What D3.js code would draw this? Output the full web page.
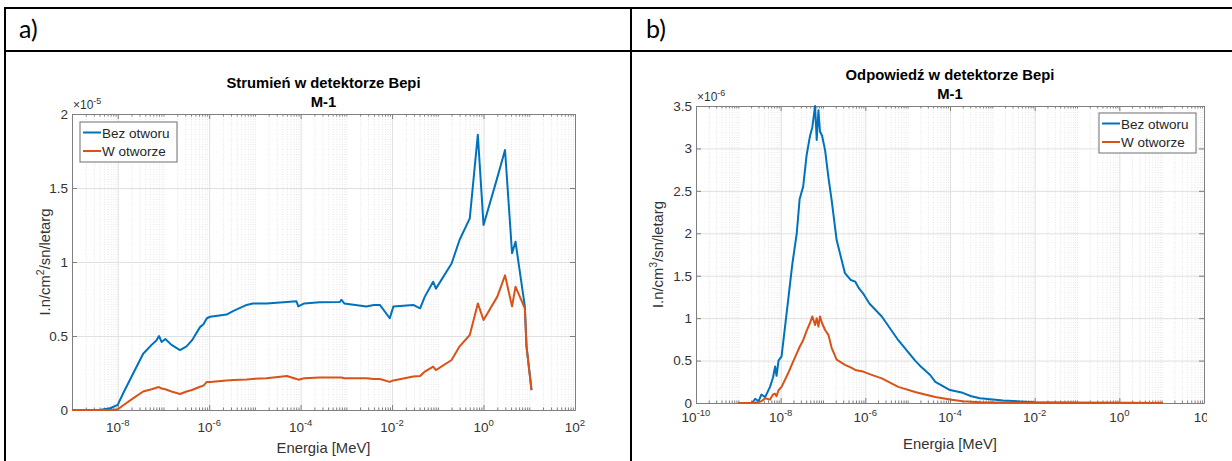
<!DOCTYPE html>
<html lang="pl">
<head>
<meta charset="UTF-8">
<title>Strumień i odpowiedź w detektorze Bepi</title>
<script src="https://d3js.org/d3.v7.min.js"></script>
<style>
  body { margin: 0; background: #fff; }
  svg { display: block; font-family: 'Liberation Sans', Arial, sans-serif; }
  .cell-label { font-family: Lato, 'Open Sans', sans-serif; font-size: 25px; fill: #000; }
  .tick-label { font-size: 13.5px; fill: #333; }
  .axis-label { font-size: 14.8px; fill: #333; }
  .title { font-size: 14.8px; font-weight: bold; fill: #000; }
  .legend-text { font-size: 13.5px; fill: #262626; }
  .axis path, .axis line { stroke: #7f7f7f; stroke-width: 1; fill: none; }
  .grid line { stroke: #e0e0e0; stroke-width: 1; }
  .grid-minor line { stroke: #e6e6e6; stroke-width: 1; stroke-dasharray: 1 1.5; }
</style>
</head>
<body>
<svg id="chart" width="1232" height="461"></svg>
<script>
// ---- data ----
const seriesNames = ["Bez otworu", "W otworze"];
const colors = ["#0072BD", "#D95319"];

// a) Strumień, values in 1e-5
const energyA = [1e-9, 4e-9, 6.8e-9, 1e-8, 1.3e-8, 2.2e-8, 3.6e-8, 5.5e-8, 7e-8, 8e-8, 9.1e-8,
  1.1e-7, 1.5e-7, 2.3e-7, 3.2e-7, 4.2e-7, 6.3e-7, 7.5e-7, 8.9e-7, 1.05e-6, 2.4e-6,
  3.4e-6, 6.6e-6, 9e-6, 1.8e-5, 5e-5, 8.1e-5, 8.9e-5, 1.2e-4, 2.6e-4, 7.2e-4,
  7.8e-4, 9e-4, 2.75e-3, 4e-3, 5.4e-3, 8.9e-3, 1.07e-2, 2.9e-2, 4.1e-2, 5.2e-2,
  7.9e-2, 9.1e-2, 0.2, 0.3, 0.5, 0.75, 1.0, 2.0, 2.95, 4.2,
  5.0, 8.0, 8.7, 11.2];
const bezOtworuA = [0, 0, 0.012, 0.035, 0.11, 0.25, 0.38, 0.44, 0.47, 0.50, 0.46,
  0.48, 0.44, 0.405, 0.43, 0.47, 0.56, 0.58, 0.62, 0.63, 0.645,
  0.67, 0.71, 0.72, 0.72, 0.73, 0.735, 0.70, 0.72, 0.728, 0.73,
  0.745, 0.72, 0.70, 0.71, 0.71, 0.62, 0.70, 0.71, 0.687, 0.766,
  0.867, 0.82, 0.99, 1.15, 1.295, 1.86, 1.25, 1.57, 1.757, 1.06,
  1.137, 0.70, 0.43, 0.135];
const wOtworzeA = [0, 0, 0, 0.004, 0.03, 0.08, 0.125, 0.14, 0.15, 0.155, 0.145,
  0.14, 0.125, 0.108, 0.125, 0.135, 0.157, 0.165, 0.19, 0.19, 0.20,
  0.202, 0.206, 0.21, 0.214, 0.23, 0.21, 0.205, 0.215, 0.22, 0.22,
  0.22, 0.215, 0.214, 0.21, 0.21, 0.19, 0.20, 0.226, 0.23, 0.26,
  0.293, 0.27, 0.338, 0.43, 0.507, 0.72, 0.608, 0.766, 0.91, 0.70,
  0.833, 0.687, 0.43, 0.135];

// b) Odpowiedź, values in 1e-6
const energyB = [1e-9, 2.1e-9, 2.5e-9, 3e-9, 3.5e-9, 4.3e-9, 5.6e-9, 6.6e-9, 7.4e-9, 8e-9,
  8.9e-9, 1.05e-8, 1.5e-8, 1.9e-8, 2.4e-8, 2.8e-8, 3.4e-8, 4.1e-8, 4.9e-8, 5.6e-8,
  6.5e-8, 7.1e-8, 7.8e-8, 8.5e-8, 9.5e-8, 1.12e-7, 1.35e-7, 1.6e-7, 2.1e-7, 3.3e-7,
  4.5e-7, 5.8e-7, 7.1e-7, 8.9e-7, 1.26e-6, 2.45e-6, 6e-6, 1.5e-5, 1.95e-5, 3.4e-5,
  4.5e-5, 1e-4, 2e-4, 3.2e-4, 5.1e-4, 1.8e-3, 1e-2, 0.1, 1, 10.7];
const bezOtworuB = [0, 0, 0.05, 0.02, 0.10, 0.07, 0.19, 0.30, 0.43, 0.32,
  0.50, 0.55, 1.21, 1.65, 2.0, 2.4, 2.55, 2.92, 3.14, 3.25,
  3.5, 3.1, 3.45, 3.2, 3.15, 2.98, 2.65, 2.39, 1.92, 1.53,
  1.45, 1.43, 1.35, 1.29, 1.17, 1.02, 0.74, 0.50, 0.44, 0.33,
  0.25, 0.153, 0.12, 0.08, 0.055, 0.03, 0.008, 0.003, 0.002, 0];
const wOtworzeB = [0, 0, 0.005, 0.01, 0.02, 0.055, 0.04, 0.10, 0.11, 0.08,
  0.15, 0.19, 0.35, 0.47, 0.585, 0.66, 0.74, 0.85, 0.94, 1.02,
  0.92, 1.0, 0.9, 1.02, 0.94, 0.86, 0.80, 0.65, 0.51, 0.45,
  0.42, 0.39, 0.38, 0.37, 0.34, 0.29, 0.19, 0.13, 0.115, 0.085,
  0.07, 0.04, 0.02, 0.015, 0.01, 0.005, 0.003, 0.002, 0.001, 0];

const xTickExpA = [-8, -6, -4, -2, 0, 2];
const xTickExpB = [-10, -8, -6, -4, -2, 0, 2];
const yTicksA = [0, 0.5, 1, 1.5, 2];
const yTicksB = [0, 0.5, 1, 1.5, 2, 2.5, 3, 3.5];

const svg = d3.select("#chart");
const defs = svg.append("defs");

// ---- table frame (bottom and right edges fall outside the picture) ----
svg.append("rect").attr("x", 5).attr("y", 8).attr("width", 1240).attr("height", 470)
  .attr("fill", "none").attr("stroke", "#000").attr("stroke-width", 2);
svg.append("line").attr("x1", 5).attr("x2", 1232).attr("y1", 51).attr("y2", 51)
  .attr("stroke", "#000").attr("stroke-width", 2);
svg.append("line").attr("x1", 631).attr("x2", 631).attr("y1", 8).attr("y2", 461)
  .attr("stroke", "#000").attr("stroke-width", 2);
svg.append("text").attr("class", "cell-label").attr("x", 19).attr("y", 38).text("a)");
svg.append("text").attr("class", "cell-label").attr("x", 646).attr("y", 38).text("b)");

function drawPanel(p) {
  const g = svg.append("g");
  if (p.clip) {
    defs.append("clipPath").attr("id", p.id + "-clip").append("rect")
      .attr("x", p.clip[0]).attr("y", 52).attr("width", p.clip[1] - p.clip[0]).attr("height", 409);
    g.attr("clip-path", `url(#${p.id}-clip)`);
  }
  const x = d3.scaleLog().domain(p.xDomain).range([p.left, p.right]);
  const y = d3.scaleLinear().domain(p.yDomain).range([p.bottom, p.top]);
  const w = p.right - p.left, h = p.bottom - p.top;

  const majors = p.xExp.map(e => Math.pow(10, e));
  const minors = [];
  const k0 = Math.round(Math.log10(p.xDomain[0])), k1 = Math.round(Math.log10(p.xDomain[1]));
  for (let k = k0; k < k1; k++) {
    for (let m = 1; m <= 9; m++) {
      if (m === 1 && p.xExp.includes(k)) continue;
      minors.push(m * Math.pow(10, k));
    }
  }
  const noDomain = a => a.select(".domain").remove();

  // grid
  g.append("g").attr("class", "grid-minor").attr("transform", `translate(0,${p.bottom})`)
    .call(d3.axisBottom(x).tickValues(minors).tickSize(-h).tickFormat("")).call(noDomain);
  g.append("g").attr("class", "grid").attr("transform", `translate(0,${p.bottom})`)
    .call(d3.axisBottom(x).tickValues(majors).tickSize(-h).tickFormat("")).call(noDomain);
  g.append("g").attr("class", "grid").attr("transform", `translate(${p.left},0)`)
    .call(d3.axisLeft(y).tickValues(p.yTicks).tickSize(-w).tickFormat("")).call(noDomain);

  // axes box with inward ticks
  g.append("g").attr("class", "axis").attr("transform", `translate(0,${p.bottom})`)
    .call(d3.axisBottom(x).tickValues(majors).tickSize(-5).tickSizeOuter(0).tickFormat(""));
  g.append("g").attr("class", "axis").attr("transform", `translate(0,${p.bottom})`)
    .call(d3.axisBottom(x).tickValues(minors).tickSize(-2.5).tickFormat("")).call(noDomain);
  g.append("g").attr("class", "axis").attr("transform", `translate(0,${p.top})`)
    .call(d3.axisTop(x).tickValues(majors).tickSize(-5).tickSizeOuter(0).tickFormat(""));
  g.append("g").attr("class", "axis").attr("transform", `translate(0,${p.top})`)
    .call(d3.axisTop(x).tickValues(minors).tickSize(-2.5).tickFormat("")).call(noDomain);
  const yAx = g.append("g").attr("class", "axis").attr("transform", `translate(${p.left},0)`)
    .call(d3.axisLeft(y).tickValues(p.yTicks).tickSize(-5).tickSizeOuter(0).tickPadding(4).tickFormat(d => String(d)));
  yAx.selectAll(".tick text").attr("class", "tick-label");
  yAx.attr("font-size", null).attr("font-family", null);
  g.append("g").attr("class", "axis").attr("transform", `translate(${p.right},0)`)
    .call(d3.axisRight(y).tickValues(p.yTicks).tickSize(-5).tickSizeOuter(0).tickFormat(""));

  // x tick labels 10^k
  g.append("g").selectAll("text").data(p.xExp).join("text")
    .attr("class", "tick-label").attr("text-anchor", "middle")
    .attr("x", e => x(Math.pow(10, e))).attr("y", p.bottom + p.xLabelDy)
    .each(function (e) {
      const t = d3.select(this);
      t.append("tspan").text("10");
      t.append("tspan").attr("dy", -6).attr("font-size", "9.5px").text(e);
    });

  // exponent label
  const ex = g.append("text").attr("class", "tick-label").attr("x", p.left + 1).attr("y", p.top - 5);
  ex.append("tspan").attr("font-size", "12px").text("\u00d710");
  ex.append("tspan").attr("dy", -5).attr("font-size", "9px").text(p.exp);

  // data
  [p.bez, p.w].forEach((vals, i) => {
    const line = d3.line().x((d, j) => x(p.energy[j])).y(d => y(d));
    g.append("path").datum(vals).attr("d", line)
      .attr("fill", "none").attr("stroke", colors[i]).attr("stroke-width", 2)
      .attr("stroke-linejoin", "round");
  });

  // titles
  const cx = (p.left + p.right) / 2;
  g.append("text").attr("class", "title").attr("text-anchor", "middle")
    .attr("x", cx).attr("y", p.top - 26).text(p.title);
  g.append("text").attr("class", "title").attr("text-anchor", "middle")
    .attr("x", cx).attr("y", p.top - 7.5).text("M-1");

  // axis labels
  g.append("text").attr("class", "axis-label").attr("text-anchor", "middle")
    .attr("x", cx).attr("y", p.bottom + p.xTitleDy).text("Energia [MeV]");
  const yl = g.append("text").attr("class", "axis-label").attr("text-anchor", "middle")
    .attr("transform", `translate(${p.yLabelX},${(p.top + p.bottom) / 2}) rotate(-90)`);
  yl.append("tspan").text("I.n/cm");
  yl.append("tspan").attr("dy", -6).attr("font-size", "10.5px").text(p.sup);
  yl.append("tspan").attr("dy", 6).text("/sn/letarg");

  // legend
  const lg = g.append("g").attr("transform", `translate(${p.legend[0]},${p.legend[1]})`);
  lg.append("rect").attr("width", 97).attr("height", 40)
    .attr("fill", "#fff").attr("stroke", "#6e6e6e").attr("stroke-width", 1);
  seriesNames.forEach((name, i) => {
    const ly = 10.5 + i * 18.5;
    lg.append("line").attr("x1", 3).attr("x2", 21).attr("y1", ly).attr("y2", ly)
      .attr("stroke", colors[i]).attr("stroke-width", 2);
    lg.append("text").attr("class", "legend-text").attr("x", 22).attr("y", ly + 5).text(name);
  });
}

drawPanel({
  id: "a", left: 72, right: 575, top: 114, bottom: 410,
  xDomain: [1e-9, 1e2], yDomain: [0, 2], xExp: xTickExpA, yTicks: yTicksA,
  energy: energyA, bez: bezOtworuA, w: wOtworzeA, exp: "-5", sup: "2",
  title: "Strumień w detektorze Bepi", xLabelDy: 22, xTitleDy: 43, yLabelX: 50,
  legend: [80, 122]
});
drawPanel({
  id: "b", left: 696, right: 1204, top: 106, bottom: 403,
  xDomain: [1e-10, 1e2], yDomain: [0, 3.5], xExp: xTickExpB, yTicks: yTicksB,
  energy: energyB, bez: bezOtworuB, w: wOtworzeB, exp: "-6", sup: "3",
  title: "Odpowiedź w detektorze Bepi", xLabelDy: 19, xTitleDy: 46, yLabelX: 663,
  legend: [1099, 113], clip: [633, 1207]
});
</script>
</body>
</html>
